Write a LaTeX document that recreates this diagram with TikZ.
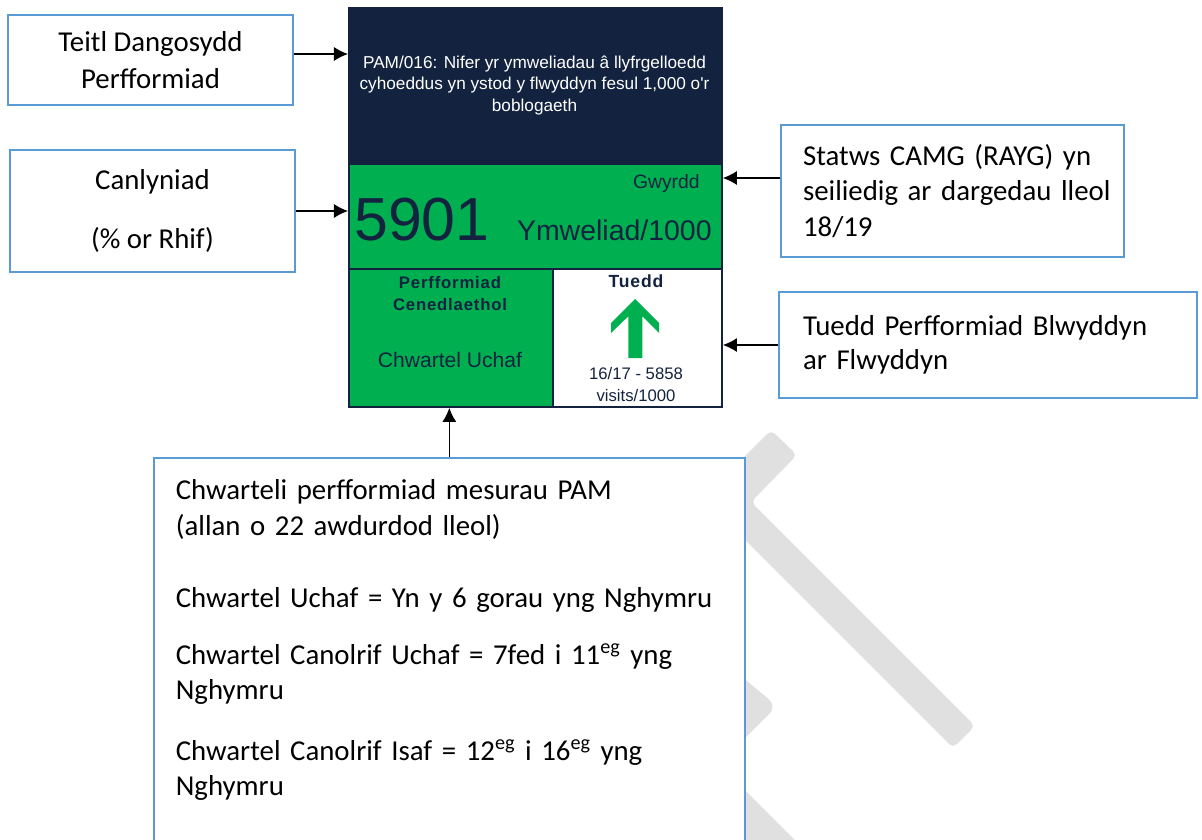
\documentclass[tikz,border=0pt]{standalone}
\usepackage{fontspec}
\setmainfont{Carlito}
\newfontfamily\arialfont{Liberation Sans}
\newfontfamily\arialspaced[LetterSpace=5]{Liberation Sans}
\usetikzlibrary{arrows.meta}

\definecolor{cardnavy}{RGB}{19,35,63}
\definecolor{pamgreen}{RGB}{0,176,80}
\definecolor{callblue}{RGB}{91,155,213}
\definecolor{wmgrey}{RGB}{224,224,224}

\tikzset{
	callout/.style={draw=callblue, line width=1pt, fill=white, inner sep=0pt, font=\fontsize{16.4}{20}\selectfont},
	callarrow/.style={-{Latex[length=8pt,width=8pt]}, line width=0.7pt},
	cardpart/.style={draw=cardnavy, line width=1.1pt, inner sep=0pt, anchor=north west},
	cardtext/.style={text=cardnavy, inner sep=0pt},
}

\begin{document}
\begin{tikzpicture}[x=0.02cm,y=-0.02cm]
			\useasboundingbox (0,0) rectangle (1202,839);
			
			% watermark pieces
			\fill[wmgrey, rounded corners=3pt] (730,471) -- (771,430) -- (797,455) -- (751,502) -- (975,726) -- (953,748) -- (730,525) -- cycle;
			\fill[wmgrey, rounded corners=6pt] (730,667) -- (777,706) -- (730,753) -- cycle;
			\fill[wmgrey] (730,775) -- (800,845) -- (730,845) -- cycle;
			
			% card
			\node[cardpart, fill=cardnavy, minimum width=7.46cm, minimum height=3.12cm] (title) at (348,7) {};
			\node[text=white, inner sep=0pt, align=center, font=\arialfont\fontsize{9.8}{12.5}\selectfont] (titleText) at (534.5,85.5) {PAM/016: Nifer yr ymweliadau â llyfrgelloedd\\cyhoeddus yn ystod y flwyddyn fesul 1,000 o'r\\boblogaeth};
			\node[cardpart, fill=pamgreen, minimum width=7.46cm, minimum height=2.1cm] (band) at (348,163) {};
			\node[cardpart, fill=pamgreen, minimum width=4.08cm, minimum height=2.76cm] (natl) at (348,268) {};
			\node[cardpart, fill=white, minimum width=3.38cm, minimum height=2.76cm] (trend) at (552,268) {};
			
			\node[cardtext, anchor=east, font=\arialfont\fontsize{11}{13}\selectfont] (gwyrdd) at (700,183) {Gwyrdd};
			\node[cardtext, anchor=base west, font=\arialfont\fontsize{34.6}{40}\selectfont] (value) at (354,240) {5901};
			\node[cardtext, anchor=base east, font=\arialfont\fontsize{16.2}{19}\selectfont] (unit) at (712,240) {Ymweliad/1000};
			\node[cardtext, align=center, font=\arialspaced\bfseries\fontsize{9.5}{12.5}\selectfont] (natlHead) at (450,294) {Perfformiad\\Cenedlaethol};
			\node[cardtext, font=\arialfont\fontsize{12}{14}\selectfont] (natlQuart) at (450,360) {Chwartel Uchaf};
			\node[cardtext, font=\arialspaced\bfseries\fontsize{10}{12}\selectfont] (trendHead) at (636,281) {Tuedd};
			\fill[pamgreen] (635,299) -- (659,323) -- (659,333) -- (642.3,316.3) -- (642.3,358) -- (628.3,358) -- (628.3,316.3) -- (611,333) -- (611,323) -- cycle;
			\node[cardtext, align=center, font=\arialfont\fontsize{9.5}{13}\selectfont] (trendText) at (636,384.5) {16/17 - 5858\\visits/1000};
			
			% callouts
			\node[callout, minimum width=5.7cm, minimum height=1.8cm, align=center, font=\fontsize{16.4}{21}\selectfont] (lblTitle) at (150.5,60) {Teitl Dangosydd\\Perfformiad};
			\node[callout, minimum width=5.7cm, minimum height=2.44cm, align=center] (lblResult) at (152.5,211) {Canlyniad\\[14pt](\% or Rhif)};
			\node[callout, minimum height=2.64cm, align=left, text width=5.98cm, inner xsep=0.44cm, font=\fontsize{16.4}{20.4}\selectfont] (lblRayg) at (952.5,191) {\mbox{Statws CAMG (RAYG) yn}\\\mbox{seiliedig ar dargedau lleol}\\18/19};
			\node[callout, minimum height=2.12cm, align=left, text width=7.4cm, inner xsep=0.48cm, font=\fontsize{16.4}{19.3}\selectfont] (lblTrend) at (988,345) {Tuedd Perfformiad Blwyddyn\\ar Flwyddyn};
			\node[callout, anchor=north west, align=left, text width=10.94cm, inner sep=0.44cm] (lblQuart) at (153,457) {Chwarteli perfformiad mesurau PAM\\
				(allan o 22 awdurdod lleol)\\[21pt]
				Chwartel Uchaf = Yn y 6 gorau yng Nghymru\\[12.5pt]
				Chwartel Canolrif Uchaf = 7fed i 11\textsuperscript{eg} yng\\
				Nghymru\\[15pt]
				Chwartel Canolrif Isaf = 12\textsuperscript{eg} i 16\textsuperscript{eg} yng\\
				Nghymru\\[2cm]\mbox{}};
			
			% arrows
			\coordinate (titleOut) at ([yshift=0.12cm]lblTitle.east);
			\coordinate (raygOut) at ([yshift=0.26cm]lblRayg.west);
			\draw[callarrow] (titleOut) -- (titleOut -| title.west);
			\draw[callarrow] (lblResult.east) -- (lblResult.east -| band.west);
			\draw[callarrow] (raygOut) -- (raygOut -| band.east);
			\draw[callarrow] (lblTrend.west) -- (lblTrend.west -| trend.east);
			\draw[callarrow] (lblQuart.north) -- (lblQuart.north |- natl.south);
		\end{tikzpicture}
\end{document}
